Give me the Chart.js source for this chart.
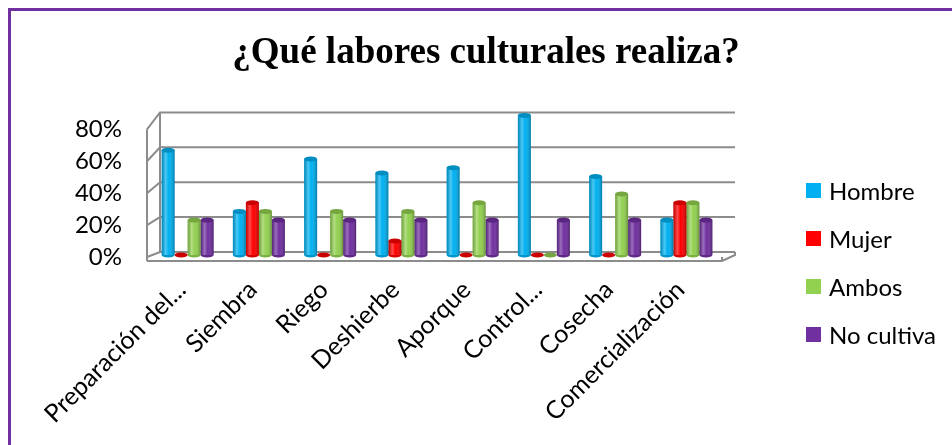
<!DOCTYPE html>
<html><head><meta charset="utf-8">
<script src="https://cdn.jsdelivr.net/npm/chart.js@4"></script>
<style>
html,body{margin:0;padding:0;background:#fff;overflow:hidden}
#wrap{position:relative;width:952px;height:445px}
#frame{position:absolute;left:8px;top:8px;width:2000px;height:2000px;border-left:3px solid #7030A0;border-top:3px solid #7030A0;pointer-events:none}
#legend{position:absolute;left:806px;top:166px;font-family:Lato,sans-serif;font-size:24px;color:#000}
#legend .item{display:flex;align-items:center;height:48px;white-space:nowrap}
#legend .sw{width:15px;height:15px;margin-right:8px;flex:none}
</style></head>
<body>
<div id="wrap">
<canvas id="c" width="952" height="445"></canvas>
<div id="legend"></div>
<div id="frame"></div>
</div>
<script>
const titleText = "¿Qué labores culturales realiza?";
const categories = ["Preparación del...", "Siembra", "Riego", "Deshierbe", "Aporque", "Control...", "Cosecha", "Comercialización"];
const seriesNames = ["Hombre", "Mujer", "Ambos", "No cultiva"];
const hombre    = [60, 25, 55, 47, 50, 80, 45, 20];
const mujer     = [0, 30, 0, 8, 0, 0, 0, 30];
const ambos     = [20, 25, 25, 25, 30, 0, 35, 30];
const noCultiva = [20, 20, 20, 20, 20, 20, 20, 20];
const yTicks = [0, 20, 40, 60, 80];
const seriesColors = ["#00B0F0", "#FF0000", "#92D050", "#7030A0"];
const seriesValues = [hombre, mujer, ambos, noCultiva];

const FONT = "Lato";

const grid3d = {
  id: 'grid3d',
  beforeDatasetsDraw(chart) {
    const {ctx, chartArea: a, scales} = chart;
    const yb = scales.y, yf = scales.yl;
    const xf = a.left - 5, xb = a.left + 8, xr = a.right + 13;
    const back = v => yb.getPixelForValue(v) - 3;
    ctx.save();
    ctx.strokeStyle = '#8c8c8c';
    ctx.lineWidth = 2;
    yTicks.forEach(v => {
      const f = yf.getPixelForValue(v), b = back(v);
      ctx.beginPath();
      ctx.moveTo(xf, f); ctx.lineTo(xb, b); ctx.lineTo(xr, b);
      ctx.stroke();
    });
    const top = yTicks[yTicks.length - 1], bot = yTicks[0];
    ctx.beginPath();
    ctx.moveTo(xf, yf.getPixelForValue(top)); ctx.lineTo(xf, yf.getPixelForValue(bot) + 4);
    ctx.moveTo(xb, back(top)); ctx.lineTo(xb, back(bot));
    ctx.moveTo(xf, yf.getPixelForValue(bot) + 4); ctx.lineTo(a.right, yf.getPixelForValue(bot) + 4);
    ctx.lineTo(xr, back(bot) + 3); ctx.lineTo(xr, back(bot));
    ctx.moveTo(a.right, yf.getPixelForValue(bot)); ctx.lineTo(a.right, yf.getPixelForValue(bot) + 4);
    ctx.stroke();
    ctx.restore();
  }
};

function shade(hex, f) {
  const n = parseInt(hex.slice(1), 16);
  let r = (n >> 16) & 255, g = (n >> 8) & 255, b = n & 255;
  r = Math.round(r * f); g = Math.round(g * f); b = Math.round(b * f);
  return `rgb(${Math.min(255,r)},${Math.min(255,g)},${Math.min(255,b)})`;
}

const cylinders = {
  id: 'cylinders',
  afterDatasetsDraw(chart) {
    const ctx = chart.ctx;
    chart.data.datasets.forEach((ds, i) => {
      const meta = chart.getDatasetMeta(i);
      meta.data.forEach(el => {
        const {x, y, base, width} = el.getProps(['x', 'y', 'base', 'width'], true);
        const l = x - width / 2;
        ctx.save();
        if (base - y > 0) {
          const g = ctx.createLinearGradient(l, 0, l + width, 0);
          g.addColorStop(0, 'rgba(0,0,0,0.22)');
          g.addColorStop(0.3, 'rgba(255,255,255,0.30)');
          g.addColorStop(0.55, 'rgba(255,255,255,0)');
          g.addColorStop(1, 'rgba(0,0,0,0.30)');
          ctx.fillStyle = g;
          ctx.fillRect(l, y, width, base - y);
          ctx.beginPath();
          ctx.ellipse(x, base, width / 2, 2.5, 0, 0, Math.PI);
          ctx.fillStyle = shade(ds.backgroundColor, 0.85);
          ctx.fill();
        }
        ctx.beginPath();
        ctx.ellipse(x, y, width / 2, 2.5, 0, 0, Math.PI * 2);
        ctx.fillStyle = shade(ds.backgroundColor, 0.8);
        ctx.fill();
        ctx.restore();
      });
    });
  }
};

const datasets = seriesNames.map((name, i) => ({
  label: name,
  data: seriesValues[i],
  backgroundColor: seriesColors[i],
  borderWidth: 0,
  yAxisID: 'y'
}));

new Chart(document.getElementById('c'), {
  type: 'bar',
  data: { labels: categories, datasets },
  options: {
    responsive: false,
    animation: false,
    events: [],
    datasets: { bar: { barPercentage: 1.0, categoryPercentage: 0.73 } },
    layout: { padding: { left: 20, right: 0, top: 0, bottom: 0 } },
    plugins: {
      legend: { display: false },
      tooltip: { enabled: false },
      title: {
        display: true,
        text: titleText,
        color: '#000',
        font: { family: 'Liberation Serif', size: 37, weight: 'bold' },
        padding: { top: 31, bottom: 38 }
      }
    },
    scales: {
      x: {
        type: 'category',
        grid: { display: false, drawTicks: false },
        border: { display: false },
        ticks: {
          color: '#000', autoSkip: false, minRotation: 45, maxRotation: 45,
          font: { family: FONT, size: 25 }, padding: 10, labelOffset: -6
        },
        afterFit(s) { s.height = 180; }
      },
      y: {
        type: 'linear', position: 'right',
        min: -5.714, max: 81.14,
        ticks: { display: false },
        grid: { display: false, drawTicks: false },
        border: { display: false },
        afterFit(s) { s.width = 230; }
      },
      yl: {
        type: 'linear', position: 'left',
        min: -5, max: 90,
        grid: { display: false, drawTicks: false },
        border: { display: false },
        ticks: {
          color: '#000', padding: 30,
          font: { family: FONT, size: 24 },
          callback: v => v + '%'
        },
        afterBuildTicks(s) { s.ticks = yTicks.map(v => ({ value: v })); },
        afterFit(s) { s.width = 132; }
      }
    }
  },
  plugins: [grid3d, cylinders]
});

const lg = document.getElementById('legend');
seriesNames.forEach((n, i) => {
  const it = document.createElement('div'); it.className = 'item';
  const sw = document.createElement('span'); sw.className = 'sw'; sw.style.background = seriesColors[i];
  const tx = document.createElement('span'); tx.textContent = n;
  it.appendChild(sw); it.appendChild(tx); lg.appendChild(it);
});
</script>
</body></html>
